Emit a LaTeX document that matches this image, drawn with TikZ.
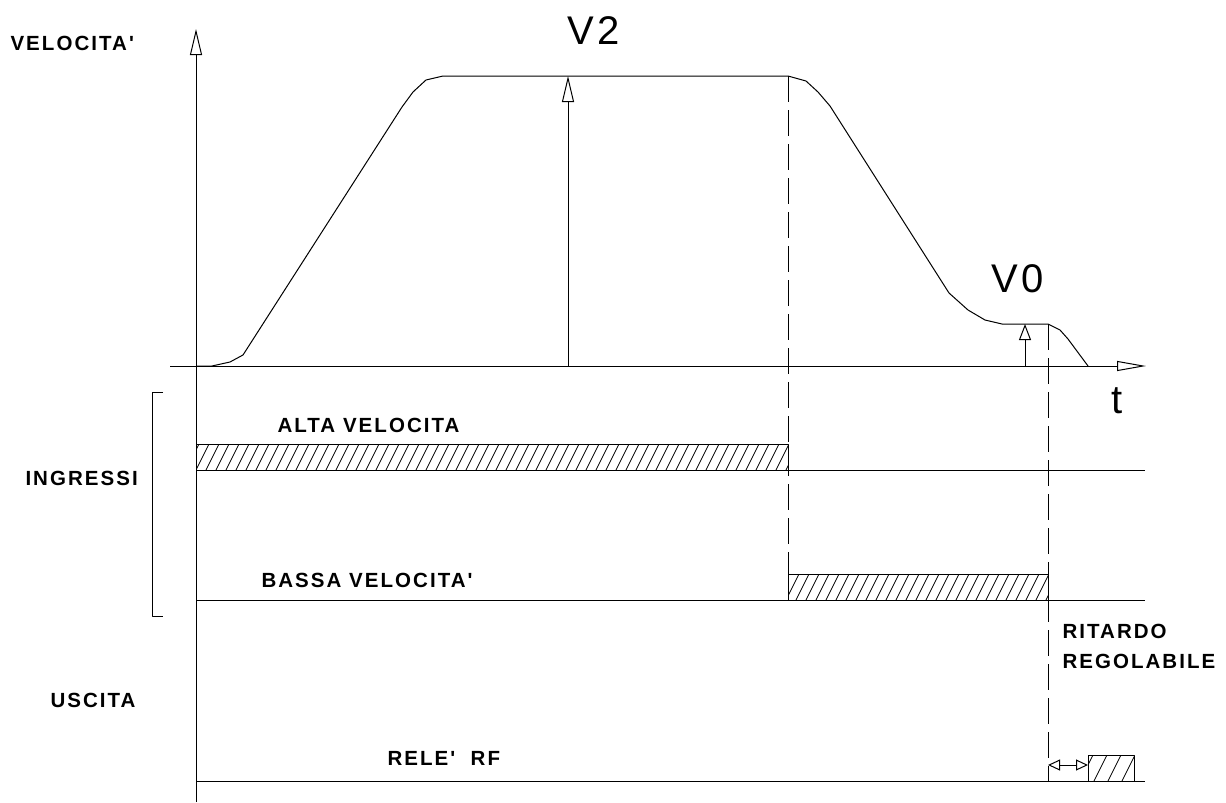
\documentclass[tikz,border=0pt]{standalone}
\usepackage{fontspec}
\setmainfont{Liberation Sans}
\newfontfamily\lblfont[LetterSpace=10]{Liberation Sans}
\newfontfamily\bigfont[LetterSpace=8]{Liberation Sans}
\usetikzlibrary{arrows.meta}
\begin{document}
\begin{tikzpicture}[x=1pt,y=-1pt,line width=1pt,line join=round,
  lbl/.style={anchor=base west,inner sep=0pt,font=\lblfont\bfseries\fontsize{20.5}{20.5}\selectfont},
  big/.style={anchor=base,inner sep=0pt,font=\bigfont\fontsize{40}{40}\selectfont},
  dashline/.style={dash pattern=on 26pt off 8pt,line width=1pt},
  ohead/.style={-{Triangle[open,length=26pt,width=12pt]}}]
\useasboundingbox (0,0) rectangle (1226,803);

% axes
\coordinate (ybot) at (196,802);
\coordinate (ytop) at (196,29);
\coordinate (xl) at (170,366);
\coordinate (xr) at (1146,366);
\draw[ohead] (ybot) -- (ytop);
\draw[-{Triangle[open,length=29pt,width=10pt]}] (xl) -- (xr);

% velocity profile
\draw (196,366) -- (212,366) -- (230,362) -- (243,355) -- (402,107) -- (413,92) -- (426,80) -- (443,76)
  -- (788,76) -- (806,81) -- (818,92) -- (830,106) -- (949,293) -- (968,310) -- (985,320) -- (1002,324)
  -- (1048,324) -- (1060,330) -- (1068,339) -- (1088,366);

% V2 and V0 arrows
\coordinate (v2b) at (568,366); \coordinate (v2t) at (568,76);
\draw[ohead] (v2b) -- (v2t);
\coordinate (v0b) at (1025,366); \coordinate (v0t) at (1025,324);
\draw[-{Triangle[open,length=16pt,width=12pt]}] (v0b) -- (v0t);

% dashed lines
\coordinate (d1t) at (788,76); \coordinate (d1b) at (788,600);
\coordinate (d2t) at (1048,324); \coordinate (d2b) at (1048,781);
\draw[dashline] (d1t) -- (d1b);
\draw[dashline] (d2t) -- (d2b);

% signal lines
\draw (196,470) -- (1145,470);
\draw (196,600) -- (1145,600);
\draw (196,781) -- (1145,781);

% hatched boxes
\begin{scope}
  \clip (196,444) rectangle (788,470);
  \foreach \x in {186,196,...,800} \draw[line width=0.8pt] (\x,470) -- ++(13,-26);
\end{scope}
\draw (196,444) rectangle (788,470);
\begin{scope}
  \clip (788,574) rectangle (1048,600);
  \foreach \x in {776,786,...,1060} \draw[line width=0.8pt] (\x,600) -- ++(13,-26);
\end{scope}
\draw (788,574) rectangle (1048,600);
\begin{scope}
  \clip (1088,755) rectangle (1134,781);
  \foreach \x in {1080,1094,...,1140} \draw[line width=0.8pt] (\x,781) -- ++(13,-26);
\end{scope}
\draw (1088,755) rectangle (1134,781);

% delay arrow
\coordinate (ra) at (1048,765); \coordinate (rb) at (1088,765);
\draw[{Triangle[open,length=12pt,width=11pt]}-{Triangle[open,length=12pt,width=11pt]}] (ra) -- (rb);

% bracket
\draw (163,392) -- (152,392) -- (152,616) -- (163,616);

% labels
\node[lbl] (lvel) at (10,50) {VELOCITA'};
\node[big] (lv2) at (594,44) {V2};
\node[big] (lv0) at (1018,292) {V0};
\node[big] (lt) at (1117,413) {t};
\node[lbl] (lalta) at (277,432) {ALTA VELOCITA};
\node[lbl] (ling) at (25,485) {INGRESSI};
\node[lbl] (lbassa) at (261,587) {BASSA\ VELOCITA'};
\node[lbl] (lrit) at (1062,638) {RITARDO};
\node[lbl] (lreg) at (1062,668) {REGOLABILE};
\node[lbl] (lusc) at (50,707) {USCITA};
\node[lbl] (lrele) at (387,765) {RELE'\ \ RF};
\end{tikzpicture}
\end{document}
